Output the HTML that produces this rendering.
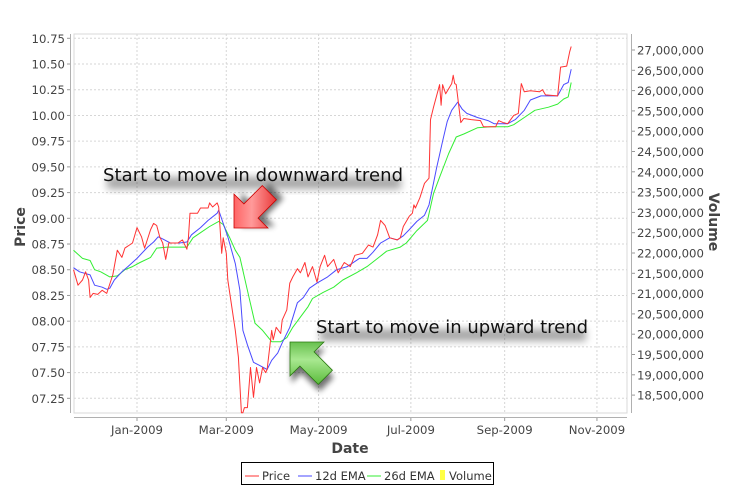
<!DOCTYPE html>
<html><head><meta charset="utf-8">
<style>
html,body{margin:0;padding:0;background:#fff;}
body{width:734px;height:487px;overflow:hidden;font-family:"Liberation Sans","DejaVu Sans",sans-serif;}
svg text{font-family:"DejaVu Sans","Liberation Sans",sans-serif;}
</style></head>
<body>
<svg id="chart" width="734" height="487" viewBox="0 0 734 487" xmlns="http://www.w3.org/2000/svg">
<defs>
<filter id="blur" x="-20%" y="-50%" width="140%" height="200%"><feGaussianBlur stdDeviation="4"/></filter>
<filter id="ablur" x="-50%" y="-50%" width="200%" height="200%"><feGaussianBlur stdDeviation="3"/></filter>
<linearGradient id="redg" x1="0" y1="0" x2="1" y2="1"><stop offset="0" stop-color="#ff3030"/><stop offset="0.5" stop-color="#ff9a9a"/><stop offset="1" stop-color="#e01010"/></linearGradient>
<linearGradient id="greeng" x1="0" y1="0" x2="1" y2="1"><stop offset="0" stop-color="#2a9a10"/><stop offset="0.5" stop-color="#a8e890"/><stop offset="1" stop-color="#3aa818"/></linearGradient>
</defs>
<g id="grid"></g>
<g id="axes"></g>
<g id="series"></g>
<g id="annot"></g>
</svg>
<script>
// ---- data (day offset from 2009-01-01, value) ----
const priceDays = [-42,-39,-36,-34,-32,-31,-29,-26,-23,-20,-16,-13,-10,-8,-3,0,3,5,9,11,13,15,17,19,21,24,27,30,33,34,35,40,42,47,48,50,53,54,56,57,59,60,65,67,69,70,71,73,75,77,79,81,83,85,86,89,90,92,95,96,99,101,103,106,108,111,113,116,119,121,124,126,130,133,137,141,144,149,153,156,159,161,164,167,172,174,176,180,182,183,184,187,190,193,194,196,200,201,202,204,208,209,210,211,214,216,221,227,229,237,239,242,245,249,252,254,256,260,266,268,270,278,280,284,286,287];
const priceVals = [8.50,8.35,8.40,8.48,8.40,8.23,8.27,8.26,8.30,8.27,8.45,8.69,8.62,8.71,8.76,8.91,8.82,8.71,8.89,8.95,8.93,8.82,8.76,8.60,8.76,8.76,8.76,8.79,8.70,8.81,9.05,9.05,9.10,9.10,9.15,9.11,9.15,9.11,8.66,8.81,8.66,8.40,7.91,7.65,7.11,7.11,7.16,7.16,7.55,7.26,7.55,7.40,7.55,7.50,7.53,7.91,7.82,7.94,7.88,8.01,8.11,8.37,8.43,8.51,8.47,8.57,8.43,8.53,8.38,8.53,8.64,8.53,8.60,8.47,8.57,8.53,8.64,8.66,8.74,8.72,8.84,8.98,8.93,8.81,8.79,8.81,8.92,9.02,9.05,9.13,9.10,9.20,9.34,9.39,9.96,10.08,10.30,10.10,10.30,10.21,10.31,10.39,10.31,10.30,9.93,9.97,9.96,9.95,9.89,9.89,9.95,9.93,9.92,10.00,10.02,10.31,10.23,10.24,10.23,10.25,10.20,10.19,10.47,10.48,10.62,10.67];
const ema12Days = [-42,-38,-31,-28,-23,-20,-18,-15,-10,-6,0,7,11,14,17,22,28,33,36,42,47,53,54,57,60,65,68,70,73,77,81,86,89,93,96,101,106,110,114,119,126,132,139,147,152,156,161,167,172,176,180,185,190,193,195,198,202,205,208,212,215,218,225,232,236,245,250,256,260,267,278,282,285,287];
const ema12Vals = [8.52,8.48,8.45,8.35,8.33,8.31,8.32,8.40,8.48,8.53,8.61,8.72,8.77,8.82,8.80,8.76,8.76,8.77,8.84,8.91,8.98,9.05,9.08,8.95,8.82,8.56,8.30,7.91,7.77,7.60,7.57,7.53,7.62,7.69,7.79,7.94,8.18,8.23,8.32,8.37,8.43,8.50,8.53,8.61,8.61,8.67,8.76,8.81,8.79,8.83,8.89,8.97,9.03,9.13,9.27,9.49,9.75,9.94,10.05,10.13,10.06,10.02,9.98,9.95,9.92,9.92,9.96,10.05,10.15,10.19,10.19,10.30,10.32,10.45];
const ema26Days = [-42,-36,-31,-28,-24,-18,-13,-8,-3,2,9,13,20,33,37,42,48,54,57,61,65,68,73,78,83,89,95,99,103,108,113,116,123,130,136,145,152,159,165,174,178,185,192,196,200,206,211,216,225,234,245,249,256,263,272,278,282,285,287];
const ema26Vals = [8.69,8.61,8.59,8.50,8.48,8.43,8.44,8.50,8.53,8.57,8.62,8.71,8.72,8.72,8.81,8.86,8.92,8.97,8.94,8.82,8.69,8.62,8.30,7.98,7.91,7.80,7.80,7.84,7.94,8.04,8.14,8.22,8.28,8.33,8.40,8.47,8.53,8.61,8.68,8.72,8.76,8.88,8.98,9.24,9.40,9.63,9.79,9.82,9.88,9.89,9.89,9.91,9.98,10.05,10.08,10.11,10.16,10.18,10.32];
const priceTicks = ["07.25","07.50","07.75","08.00","08.25","08.50","08.75","09.00","09.25","09.50","09.75","10.00","10.25","10.50","10.75"];
const priceTickVals = [7.25,7.5,7.75,8,8.25,8.5,8.75,9,9.25,9.5,9.75,10,10.25,10.5,10.75];
const volTickVals = [18500000,19000000,19500000,20000000,20500000,21000000,21500000,22000000,22500000,23000000,23500000,24000000,24500000,25000000,25500000,26000000,26500000,27000000];
const monthLabels = ["Jan-2009","Mar-2009","May-2009","Jul-2009","Sep-2009","Nov-2009"];
const monthDays = [0,59,120,181,243,304];

// ---- axis functions ----
const PL=74,PR=627,PT=34,PB=413;
function xs(d){return 137+d*1.513;}
function ys(v){return 38.3+(10.75-v)*102.86;}
function yv(v){return 50+(27000000-v)/500000*20.3;}
const NS="http://www.w3.org/2000/svg";
function mk(tag,attrs,parent){const e=document.createElementNS(NS,tag);for(const k in attrs)e.setAttribute(k,attrs[k]);parent.appendChild(e);return e;}
const grid=document.getElementById('grid'),axes=document.getElementById('axes'),series=document.getElementById('series'),annot=document.getElementById('annot');

const bg=mk('rect',{x:PL,y:PT,width:PR-PL,height:PB-PT,fill:'#fff',stroke:'#d8d8d8','stroke-width':1},grid);


priceTickVals.forEach(v=>{
  const l=mk('line',{x1:PL,x2:PR,y1:ys(v),y2:ys(v),stroke:'#d6d6d6','stroke-dasharray':'2,2'},grid);
  
  
});
monthDays.forEach(d=>{
  const l=mk('line',{x1:xs(d),x2:xs(d),y1:PT,y2:PB,stroke:'#d6d6d6','stroke-dasharray':'2,2'},grid);
  
  
});

const la=mk('line',{x1:70.5,x2:70.5,y1:PT,y2:PB,stroke:'#b0b0b0','stroke-width':1},axes);


priceTickVals.forEach((v,i)=>{
  mk('line',{x1:67,x2:70,y1:ys(v),y2:ys(v),stroke:'#999'},axes);
  const t=mk('text',{x:65,y:ys(v)+4.5,'text-anchor':'end','font-size':'11.7',fill:'#444'},axes);
  t.textContent=priceTicks[i];
  
  
});
const ra=mk('line',{x1:631.5,x2:631.5,y1:PT,y2:PB,stroke:'#b0b0b0'},axes);


volTickVals.forEach(v=>{
  mk('line',{x1:632,x2:635,y1:yv(v),y2:yv(v),stroke:'#999'},axes);
  const t=mk('text',{x:637,y:yv(v)+4.5,'font-size':'11.7',fill:'#444'},axes);
  t.textContent=v.toLocaleString('en-US');
  
  
});
const ba=mk('line',{x1:PL,x2:PR,y1:417.5,y2:417.5,stroke:'#b0b0b0'},axes);


monthDays.forEach((d,i)=>{
  mk('line',{x1:xs(d),x2:xs(d),y1:418,y2:421,stroke:'#999'},axes);
  const t=mk('text',{x:xs(d),y:434,'text-anchor':'middle','font-size':'11.7',fill:'#444'},axes);
  t.textContent=monthLabels[i];
  
  
});
let t=mk('text',{x:350,y:453,'text-anchor':'middle','font-size':'14','font-weight':'bold',fill:'#444'},axes);
t.textContent='Date';


t=mk('text',{x:0,y:0,transform:'translate(25,227) rotate(-90)','text-anchor':'middle','font-size':'14','font-weight':'bold',fill:'#444'},axes);
t.textContent='Price';


t=mk('text',{x:0,y:0,transform:'translate(709,222) rotate(90)','text-anchor':'middle','font-size':'14','font-weight':'bold',fill:'#444'},axes);
t.textContent='Volume';



function line(days,vals,color,name){
  const pts=days.map((d,i)=>xs(d).toFixed(1)+','+ys(vals[i]).toFixed(1)).join(' ');
  const p=mk('polyline',{points:pts,fill:'none',stroke:color,'stroke-width':1,'stroke-linejoin':'round'},series);
  
  
}
line(ema26Days,ema26Vals,'#33ee33','ema26-line');
line(ema12Days,ema12Vals,'#4a4aff','ema12-line');
line(priceDays,priceVals,'#ff3333','price-line');

function label(x,y,txt,len,name){
  mk('rect',{x:x+4,y:y-4,width:len-6,height:12,fill:'#000',opacity:0.35,filter:'url(#blur)'},annot);
  const e=mk('text',{x:x,y:y,'font-size':'18','textLength':len,fill:'#111'},annot);
  e.textContent=txt;
  
  
}
label(103,181,'Start to move in downward trend',300,'downtrend-label');
label(316,333,'Start to move in upward trend',272,'uptrend-label');
function arrow(tx,ty,rot,grad,name){
  const g=mk('g',{transform:`translate(${tx},${ty}) rotate(${rot})`},annot);
  
  
  const pts='0,0 24,-24 24,-10 50,-10 50,10 24,10 24,24';
  mk('polygon',{points:pts,fill:'#000',opacity:0.55,filter:'url(#ablur)',transform:'translate(6,4)'},g);
  mk('polygon',{points:pts,fill:`url(#${grad})`,stroke:grad==='redg'?'#c00':'#2a7a10','stroke-width':0.8},g);
}
arrow(234,228,-45,'redg','downtrend-arrow');
arrow(290,342,45,'greeng','uptrend-arrow');

const lg=mk('g',{},annot);


mk('rect',{x:241.5,y:462.5,width:252,height:22,fill:'#fff',stroke:'#000'},lg);
const items=[['Price','#ff3333',244],['12d EMA','#4a4aff',297],['26d EMA','#33ee33',366]];
items.forEach(it=>{
  mk('line',{x1:it[2]+1,x2:it[2]+15,y1:476,y2:476,stroke:it[1]},lg);
  const e=mk('text',{x:it[2]+18,y:480,'font-size':'11.5',fill:'#333'},lg);
  e.textContent=it[0];
  
  
});
mk('rect',{x:440,y:470,width:5,height:10,fill:'#ffff44'},lg);
const ve=mk('text',{x:449,y:480,'font-size':'11.5',fill:'#333'},lg);
ve.textContent='Volume';


</script>
</body></html>
